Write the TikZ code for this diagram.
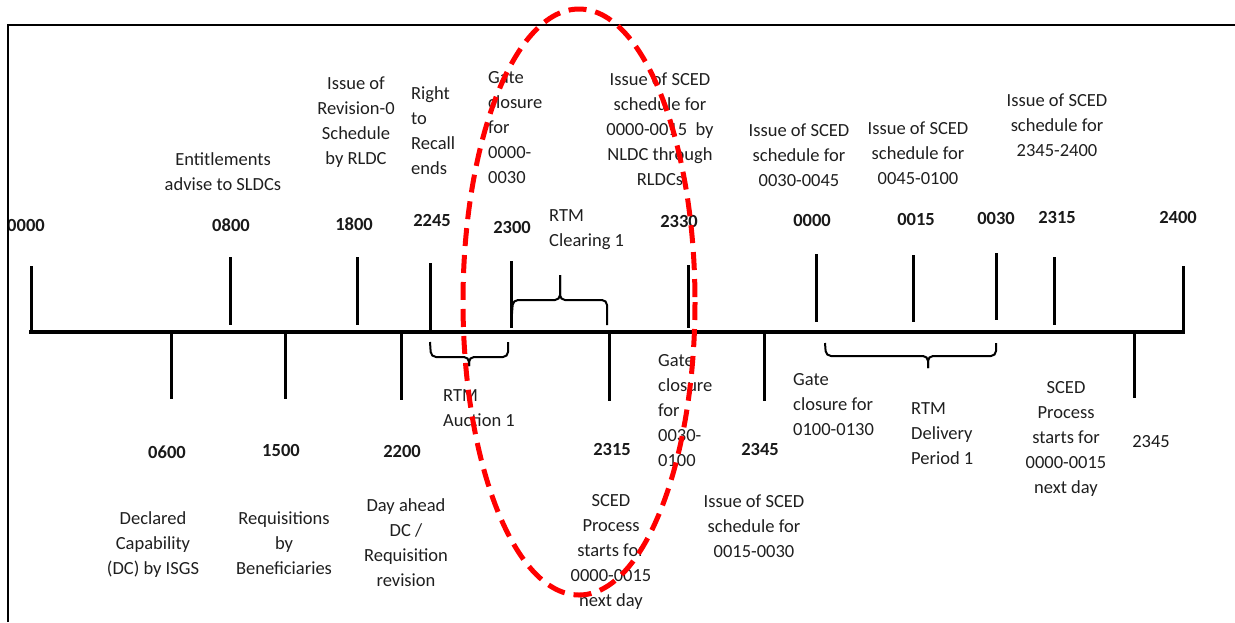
\documentclass[tikz,border=0pt]{standalone}
\usepackage{fontspec}
\setmainfont{Carlito}
\begin{document}
\begin{tikzpicture}[x=1pt,y=-1pt,
  lbl/.style={inner sep=0pt, yshift=-6pt, font=\fontsize{18.5}{25}\selectfont, text=black!88, execute at begin node=\strut},
  lc/.style={lbl, anchor=north, align=center},
  ll/.style={lbl, anchor=north west, align=left},
  tm/.style={inner sep=0pt, anchor=base, font=\bfseries\fontsize{18.5}{25}\selectfont, text=black!90},
  tmr/.style={inner sep=0pt, anchor=base, font=\fontsize{18.5}{25}\selectfont, text=black!90},
  tickline/.style={line width=3pt},
  axisline/.style={line width=3.5pt},
  bracepath/.style={line width=2pt, rounded corners=5pt},
  ring/.style={draw=red, line width=5pt, dash pattern=on 18pt off 9pt},
  framepath/.style={line width=2pt}]
\useasboundingbox (0,0) rectangle (1235,622);

% time labels
\node[tm] (l0000) at (26,231) {0000};
\node[tm] (l0800) at (231,231) {0800};
\node[tm] (l1800) at (354,230) {1800};
\node[tm] (l2245) at (432,226) {2245};
\node[tm] (l2300) at (512,233) {2300};
\node[tm] (l2330) at (679,227) {2330};
\node[tm] (l0000b) at (812,226) {0000};
\node[tm] (l0015) at (916,225) {0015};
\node[tm] (l0030) at (996,224) {0030};
\node[tm] (l2315) at (1057,223) {2315};
\node[tm] (l2400) at (1178,223) {2400};
\node[tm] (l0600) at (167,458) {0600};
\node[tm] (l1500) at (281,456) {1500};
\node[tm] (l2200) at (402,457) {2200};
\node[tm] (l2315b) at (612,455) {2315};
\node[tm] (l2345) at (760,455) {2345};
\node[tmr] (l2345b) at (1151,447) {2345};

% frame
\coordinate (fbl) at (8,622);
\coordinate (ftl) at (8,25);
\coordinate (ftr) at (1240,25);
\draw[framepath] (fbl) -- (ftl) -- (ftr);

% axis
\coordinate (axL) at (29,332);
\coordinate (axR) at (1185,332);
\draw[axisline] (axL) -- (axR);

% ticks
\foreach \n/\x/\a/\b in {t0/31/266/332, t1/230/257/325, t2/357/257/325, t3/430/263/332,
  t4/511/261/328, t5/688/265/328, t6/816/254/322, t7/913/255/322, t8/996/253/320,
  t9/1054/257/325, t10/1183/266/333,
  b1/171/332/399, b2/285/332/399, b3/401/332/400, b4/609/332/401, b5/764/332/401, b6/1134/332/398}{
  \coordinate (\n a) at (\x,\a);
  \coordinate (\n b) at (\x,\b);
  \draw[tickline] (\n a) -- (\n b);
}

% braces
\draw[bracepath] (511,327) -- (513,300) -- (560,300) -- (560,275);
\draw[bracepath] (607,325) -- (607,300) -- (560,300) -- (560,275);
\draw[bracepath] (430,342) -- (431,357) -- (469,357) -- (469,366);
\draw[bracepath] (508,342) -- (508,357) -- (469,357) -- (469,366);
\draw[bracepath] (825,343) -- (826,356) -- (928,356) -- (928,368);
\draw[bracepath] (996,343) -- (996,356) -- (928,356) -- (928,368);

% top labels
\node[lc] (ent) at (223,146) {Entitlements\\advise to SLDCs};
\node[lc] (rev0) at (356,71) {Issue of\\Revision-0\\Schedule\\by RLDC};
\node[ll] (recall) at (411,80) {Right\\to\\Recall\\ends};
\node[ll] (gc1) at (488,65) {Gate\\closure\\for\\0000-\\0030};
\node[lc] (sced1) at (660,67) {Issue of SCED\\schedule for\\0000-0015\ \ by\\NLDC through\\RLDCs};
\node[lc] (sced2) at (799,118) {Issue of SCED\\schedule for\\0030-0045};
\node[lc] (sced3) at (918,116) {Issue of SCED\\schedule for\\0045-0100};
\node[lc] (sced4) at (1057,88) {Issue of SCED\\schedule for\\2345-2400};
\node[ll] (clr) at (549,203) {RTM\\Clearing 1};

% bottom labels
\node[ll] (auc) at (443,383) {RTM\\Auction 1};
\node[lc] (dc) at (153,505) {Declared\\Capability\\(DC) by ISGS};
\node[lc] (req) at (284,505) {Requisitions\\by\\Beneficiaries};
\node[lc] (dar) at (406,492) {Day ahead\\DC /\\Requisition\\revision};
\node[lc] (sp1) at (611,488) {SCED\\Process\\starts for\\0000-0015\\next day};
\node[ll] (gc2) at (658,348) {Gate\\closure\\for\\0030-\\0100};
\node[lc] (sced5) at (754,489) {Issue of SCED\\schedule for\\0015-0030};
\node[ll] (gc3) at (793,367) {Gate\\closure for\\0100-0130};
\node[ll] (del) at (911,396) {RTM\\Delivery\\Period 1};
\node[lc] (sp2) at (1066,375) {SCED\\Process\\starts for\\0000-0015\\next day};

% red dashed ellipse
\coordinate (ringc) at (579,302);
\draw[ring] (ringc) ellipse [x radius=116, y radius=293];
\end{tikzpicture}
\end{document}
